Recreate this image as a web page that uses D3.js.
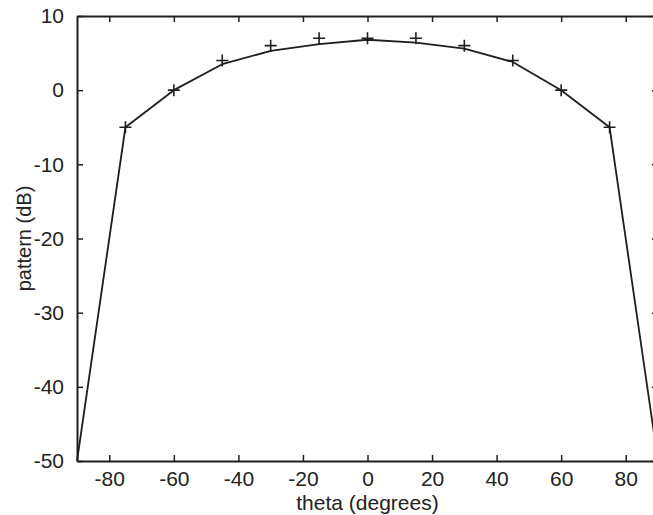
<!DOCTYPE html>
<html>
<head>
<meta charset="utf-8">
<script src="https://cdn.jsdelivr.net/npm/d3@7"></script>
<style>
	html, body { margin: 0; padding: 0; background: #fff; }
	svg { display: block; }
	text { font-family: "Liberation Sans", Arial, sans-serif; fill: #222; }
</style>
</head>
<body>
<div class="container"></div>
<script>
// pattern curve (solid line)
var lineTheta = [-90, -75, -60, -45, -30, -15, 0, 15, 30, 45, 60, 75, 90];
var lineDb = [-50, -5, 0, 3.5, 5.3, 6.2, 6.8, 6.4, 5.6, 3.8, 0, -5, -50];

// sampled points ('+' markers)
var markTheta = [-75, -60, -45, -30, -15, 0, 15, 30, 45, 60, 75];
var markDb = [-5, 0, 4, 6, 7, 7, 7, 6, 4, 0, -5];

var xTicks = [-80, -60, -40, -20, 0, 20, 40, 60, 80];
var yTicks = [-50, -40, -30, -20, -10, 0, 10];

var padding = { top: 16, bottom: 54, left: 77, right: -5 },
	width = 653 - padding.left - padding.right,
	height = 515 - padding.top - padding.bottom;

var svg = d3.select('.container')
	.append('svg')
	.attr('width', 653)
	.attr('height', 515);

var g = svg.append('g')
	.attr('transform', 'translate(' + padding.left + ',' + padding.top + ')');

var xScale = d3.scaleLinear()
	.domain([-90, 90])
	.range([0, width]);

var yScale = d3.scaleLinear()
	.domain([-50, 10])
	.range([height, 0]);

var ink = '#1e1e1e';
var plain = function (v) { return String(v); }; // hyphen minus like the original

// axes with inward ticks (box style)
var xAxis = d3.axisBottom(xScale).tickValues(xTicks).tickFormat(plain).tickSizeInner(-6).tickSizeOuter(0).tickPadding(10);
var xTop = d3.axisTop(xScale).tickValues(xTicks).tickSizeInner(-6).tickSizeOuter(0).tickFormat('');
var yAxis = d3.axisLeft(yScale).tickValues(yTicks).tickFormat(plain).tickSizeInner(-6).tickSizeOuter(0).tickPadding(13);
var yRight = d3.axisRight(yScale).tickValues(yTicks).tickSizeInner(-6).tickSizeOuter(0).tickFormat('');

g.append('g').attr('class', 'x-axis')
	.attr('transform', 'translate(0,' + height + ')')
	.call(xAxis);
g.append('g').attr('class', 'x-top').call(xTop);
g.append('g').attr('class', 'y-axis').call(yAxis);
g.append('g').attr('class', 'y-right')
	.attr('transform', 'translate(' + width + ',0)')
	.call(yRight);

g.selectAll('.domain').attr('stroke', ink).attr('stroke-width', 2);
g.selectAll('.tick line').attr('stroke', ink).attr('stroke-width', 1.5);
g.selectAll('.tick text')
	.style('font-size', '21px')
	.style('font-family', '"Liberation Sans", Arial, sans-serif')
	.attr('fill', ink);

// curve
var line = d3.line()
	.x(function (d) { return xScale(d[0]); })
	.y(function (d) { return yScale(d[1]); });

g.append('path')
	.datum(lineTheta.map(function (t, i) { return [t, lineDb[i]]; }))
	.attr('d', line)
	.attr('fill', 'none')
	.attr('stroke', ink)
	.attr('stroke-width', 1.8)
	.attr('stroke-linejoin', 'round');

// '+' markers
var s = 6;
g.append('g').attr('class', 'marks')
	.selectAll('path')
	.data(markTheta.map(function (t, i) { return [t, markDb[i]]; }))
	.enter().append('path')
	.attr('d', function (d) {
		var x = xScale(d[0]), y = yScale(d[1]);
		return 'M' + (x - s) + ',' + y + 'H' + (x + s) + 'M' + x + ',' + (y - s) + 'V' + (y + s);
	})
	.attr('stroke', ink)
	.attr('stroke-width', 1.6)
	.attr('fill', 'none');

// axis labels
svg.append('text')
	.attr('x', xScale(0) + padding.left)
	.attr('y', 510)
	.attr('text-anchor', 'middle')
	.style('font-size', '21px')
	.attr('fill', ink)
	.text('theta (degrees)');

svg.append('text')
	.attr('transform', 'translate(31,' + (padding.top + height / 2) + ') rotate(-90)')
	.attr('text-anchor', 'middle')
	.style('font-size', '20px')
	.attr('fill', ink)
	.text('pattern (dB)');
</script>
</body>
</html>
